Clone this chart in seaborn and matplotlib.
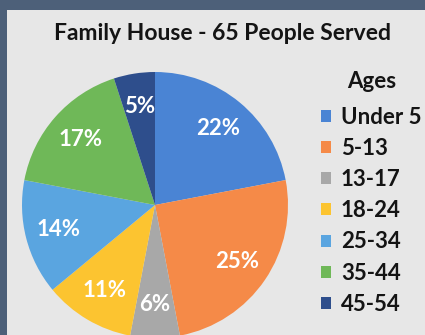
import matplotlib
matplotlib.use("Agg")
import matplotlib.pyplot as plt
import seaborn as sns
from matplotlib.patches import Rectangle, Patch

# Data
categories = ["Under 5", "5-13", "13-17", "18-24", "25-34", "35-44", "45-54"]
percentages = [22, 25, 6, 11, 14, 17, 5]
colors = ["#4a84d4", "#f58a48", "#a8a8a8", "#fcc430", "#5aa5e0", "#6fb858", "#2e4e8c"]
title = "Family House - 65 People Served"
legend_title = "Ages"

sns.set_theme(style="white")
plt.rcParams["font.family"] = ["Lato", "DejaVu Sans"]
palette = sns.color_palette(colors)

W, H = 425, 335
fig = plt.figure(figsize=(W / 100, H / 100), dpi=100, facecolor="#4d6079")

# light panel
fig.patches.append(Rectangle((7 / W, 0), 1, (H - 10) / H, transform=fig.transFigure,
                             facecolor="#e7e7e7", edgecolor="none", zorder=-5))

# pie axes: center (155,205) px, radius 133 px
cx, cy, r = 155, 205, 133
ax = fig.add_axes([(cx - r) / W, (H - cy - r) / H, 2 * r / W, 2 * r / H], zorder=2)
ax.set_facecolor("none")
ax.patch.set_alpha(0)
wedges, texts, autotexts = ax.pie(
    percentages, colors=palette, startangle=90, counterclock=False,
    autopct=lambda p: f"{p:.0f}%", pctdistance=0.75, radius=1,
    wedgeprops=dict(edgecolor="none"),
    textprops=dict(color="white", fontsize=16, fontweight="bold"))
ax.set_xlim(-1, 1)
ax.set_ylim(-1, 1)
ax.axis("off")

fig.text(222 / W, 1 - 34 / H, title, ha="center", va="center",
         fontsize=16.5, fontweight="bold", color="#141414", zorder=3)

handles = [Patch(facecolor=c, edgecolor="none") for c in palette]
leg = fig.legend(handles, categories, loc="upper left",
                 bbox_to_anchor=(321 / W, 1 - 71 / H), frameon=False,
                 title=legend_title, fontsize=16,
                 title_fontproperties=dict(size=16, weight="bold"),
                 handlelength=0.45, handleheight=0.45, handletextpad=0.45,
                 labelspacing=0.46, borderpad=0, borderaxespad=0)
leg._legend_box.sep = 10.5
leg.set_zorder(3)
for t in leg.get_texts():
    t.set_fontweight("bold")
    t.set_color("#141414")
leg.get_title().set_color("#141414")

fig.savefig("out.png", dpi=100, facecolor=fig.get_facecolor())
